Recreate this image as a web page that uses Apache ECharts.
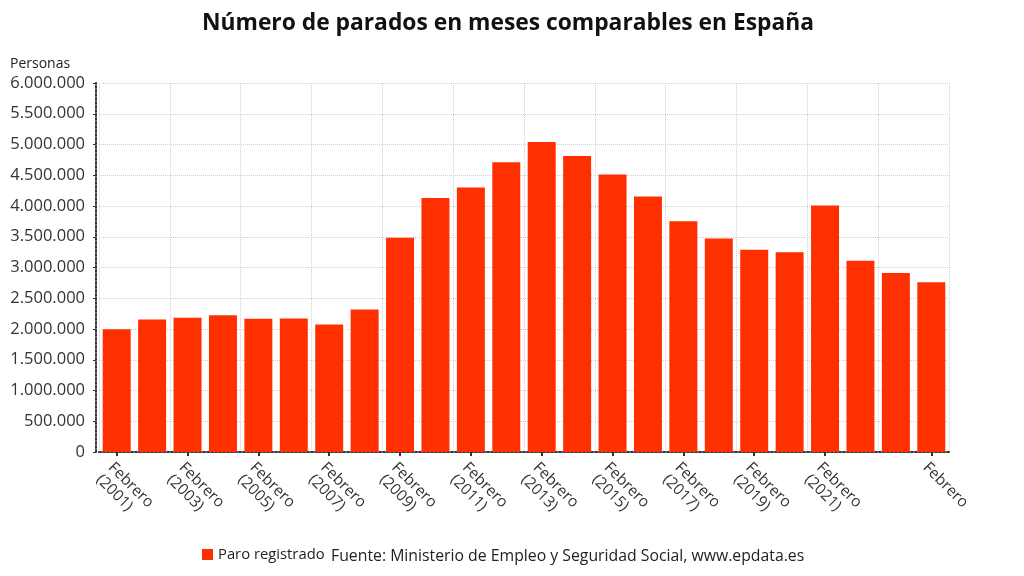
<!DOCTYPE html>
<html>
<head>
<meta charset="utf-8">
<script src="https://cdn.jsdelivr.net/npm/echarts@6/dist/echarts.min.js"></script>
<style>
html,body{margin:0;padding:0;background:#fff;}
#c{width:1024px;height:576px;}
</style>
</head>
<body>
<div id="c"></div>
<script>
const categories = [
  'Febrero\n(2001)','Febrero\n(2002)','Febrero\n(2003)','Febrero\n(2004)','Febrero\n(2005)','Febrero\n(2006)',
  'Febrero\n(2007)','Febrero\n(2008)','Febrero\n(2009)','Febrero\n(2010)','Febrero\n(2011)','Febrero\n(2012)',
  'Febrero\n(2013)','Febrero\n(2014)','Febrero\n(2015)','Febrero\n(2016)','Febrero\n(2017)','Febrero\n(2018)',
  'Febrero\n(2019)','Febrero\n(2020)','Febrero\n(2021)','Febrero\n(2022)','Febrero\n(2023)','Febrero'
];
const paroRegistrado = [
  1995000, 2155000, 2183000, 2225000, 2166000, 2171000,
  2074000, 2318000, 3481859, 4130625, 4299263, 4712098,
  5040222, 4812486, 4512153, 4152986, 3750876, 3470248,
  3289040, 3246047, 4008789, 3111684, 2911015, 2760408
];
const titleText = 'Número de parados en meses comparables en España';
const yAxisName = 'Personas';
const seriesName = 'Paro registrado';
const sourceText = 'Fuente: Ministerio de Empleo y Seguridad Social, www.epdata.es';

const FONT = '"Open Sans", sans-serif';
const fmt = v => String(v).replace(/\B(?=(\d{3})+(?!\d))/g, '.');
const lastIdx = categories.length - 1;
const showIdx = i => (i % 2 === 0 && i <= 20) || i === lastIdx;

const chart = echarts.init(document.getElementById('c'));
chart.setOption({
  animation: false,
  backgroundColor: '#fff',
  title: {
    text: titleText, left: 197, top: 7,
    textStyle: {fontFamily: FONT, fontSize: 22.8, fontWeight: 'bold', color: '#111'}
  },
  grid: {left: 99, right: 75, top: 83, bottom: 124},
  legend: {
    left: 197, bottom: 9, itemWidth: 11, itemHeight: 11, icon: 'rect', itemGap: 6,
    textStyle: {fontFamily: FONT, fontSize: 14.8, color: '#222'},
    data: [seriesName]
  },
  graphic: [{
    type: 'text', left: 331, bottom: 12,
    style: {text: sourceText, font: '15.8px ' + FONT, fill: '#222'}
  }],
  xAxis: {
    type: 'category', data: categories,
    axisLine: {lineStyle: {color: '#333', type: 'dotted', width: 2}},
    axisTick: {show: true, alignWithLabel: true, interval: (i) => showIdx(i), length: 4, lineStyle: {color: '#333', width: 2}},
    axisLabel: {
      interval: (i) => showIdx(i), rotate: -45, fontFamily: FONT, fontSize: 15.5, color: '#333',
      margin: 7, lineHeight: 17, align: 'left', verticalAlign: 'top'
    },
    splitLine: {show: true, interval: 1, lineStyle: {color: '#d0d0d0', type: 'dotted', width: 1}}
  },
  yAxis: {
    type: 'value', min: 0, max: 6000000, interval: 500000, offset: 3,
    name: yAxisName, nameLocation: 'end', nameGap: 12,
    nameTextStyle: {fontFamily: FONT, fontSize: 14, color: '#222', align: 'left', padding: [0, 0, 0, -86]},
    axisLine: {show: true, lineStyle: {color: '#333', type: 'dotted', width: 2}},
    axisTick: {show: true, length: 3, lineStyle: {color: '#333'}},
    axisLabel: {fontFamily: FONT, fontSize: 16.5, color: '#333', margin: 11, formatter: v => fmt(v)},
    splitLine: {show: true, lineStyle: {color: '#d0d0d0', type: 'dotted', width: 1}}
  },
  series: [{
    name: seriesName, type: 'bar', data: paroRegistrado,
    barCategoryGap: '21%',
    itemStyle: {color: '#ff3000'}
  }]
});
</script>
</body>
</html>
